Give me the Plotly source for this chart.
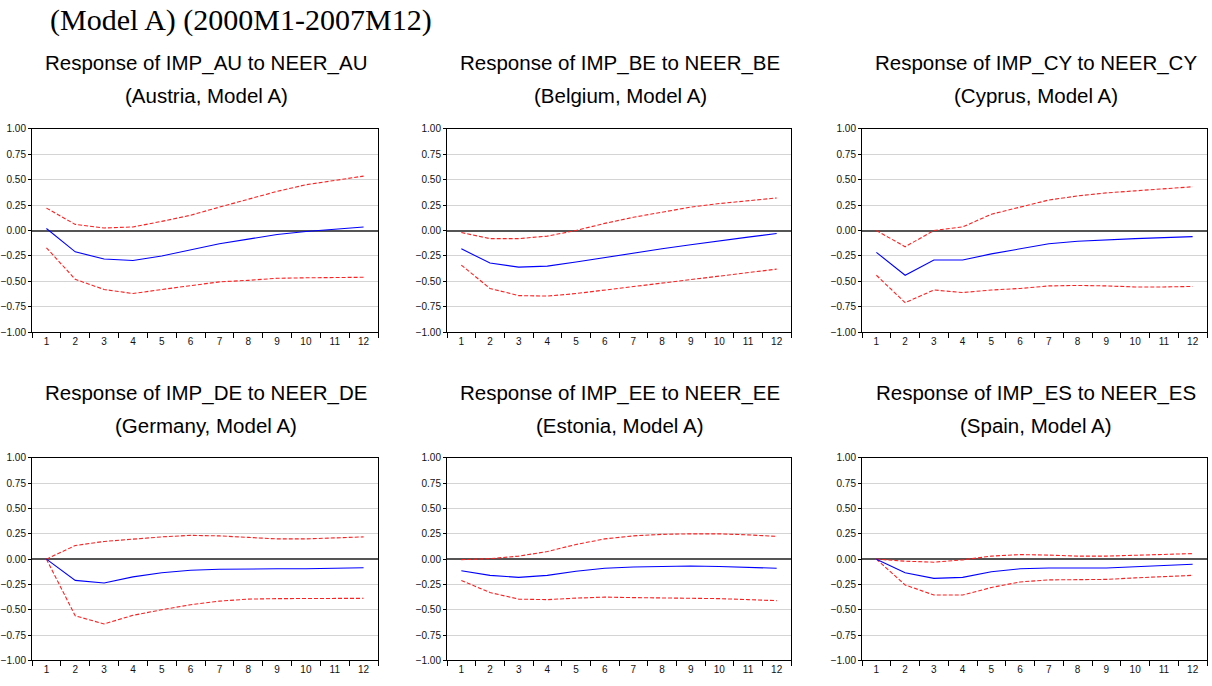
import plotly.graph_objects as go

# ---------------- data ----------------
periods = ["1", "2", "3", "4", "5", "6", "7", "8", "9", "10", "11", "12"]
y_ticks = [1.00, 0.75, 0.50, 0.25, 0.00, -0.25, -0.50, -0.75, -1.00]

main_title = "(Model A) (2000M1-2007M12)"
panel_titles = [
    "Response of IMP_AU to NEER_AU", "Response of IMP_BE to NEER_BE", "Response of IMP_CY to NEER_CY",
    "Response of IMP_DE to NEER_DE", "Response of IMP_EE to NEER_EE", "Response of IMP_ES to NEER_ES",
]
panel_subtitles = [
    "(Austria, Model A)", "(Belgium, Model A)", "(Cyprus, Model A)",
    "(Germany, Model A)", "(Estonia, Model A)", "(Spain, Model A)",
]

au_resp  = [0.02, -0.21, -0.28, -0.295, -0.25, -0.19, -0.13, -0.085, -0.04, -0.01, 0.015, 0.035]
au_upper = [0.22, 0.06, 0.025, 0.035, 0.09, 0.15, 0.23, 0.31, 0.385, 0.45, 0.495, 0.535]
au_lower = [-0.17, -0.48, -0.58, -0.62, -0.58, -0.54, -0.505, -0.49, -0.47, -0.465, -0.46, -0.46]

be_resp  = [-0.18, -0.32, -0.36, -0.35, -0.31, -0.265, -0.22, -0.18, -0.14, -0.10, -0.065, -0.03]
be_upper = [-0.02, -0.08, -0.08, -0.055, 0.0, 0.07, 0.13, 0.18, 0.23, 0.265, 0.295, 0.32]
be_lower = [-0.34, -0.57, -0.64, -0.645, -0.62, -0.585, -0.555, -0.52, -0.485, -0.45, -0.415, -0.38]

cy_resp  = [-0.215, -0.44, -0.29, -0.29, -0.23, -0.18, -0.13, -0.105, -0.09, -0.08, -0.07, -0.06]
cy_upper = [0.0, -0.16, 0.0, 0.035, 0.16, 0.23, 0.30, 0.34, 0.37, 0.39, 0.41, 0.43]
cy_lower = [-0.44, -0.71, -0.585, -0.61, -0.585, -0.57, -0.545, -0.54, -0.545, -0.555, -0.555, -0.55]

de_resp  = [0.0, -0.21, -0.235, -0.175, -0.135, -0.11, -0.10, -0.095, -0.095, -0.095, -0.093, -0.085]
de_upper = [0.0, 0.135, 0.175, 0.20, 0.22, 0.235, 0.23, 0.215, 0.20, 0.20, 0.21, 0.22]
de_lower = [0.0, -0.56, -0.64, -0.555, -0.50, -0.45, -0.415, -0.395, -0.39, -0.39, -0.39, -0.387]

ee_resp  = [-0.115, -0.16, -0.18, -0.16, -0.12, -0.09, -0.078, -0.07, -0.068, -0.072, -0.078, -0.09]
ee_upper = [-0.005, 0.005, 0.03, 0.075, 0.145, 0.20, 0.23, 0.245, 0.25, 0.25, 0.24, 0.225]
ee_lower = [-0.21, -0.33, -0.395, -0.40, -0.385, -0.375, -0.38, -0.383, -0.385, -0.39, -0.40, -0.41]

es_resp  = [0.0, -0.135, -0.19, -0.18, -0.125, -0.095, -0.088, -0.09, -0.088, -0.075, -0.06, -0.05]
es_upper = [0.0, -0.02, -0.03, -0.007, 0.03, 0.045, 0.04, 0.03, 0.03, 0.04, 0.05, 0.055]
es_lower = [0.0, -0.255, -0.355, -0.355, -0.28, -0.225, -0.205, -0.205, -0.20, -0.185, -0.17, -0.16]

panels = [
    (au_resp, au_upper, au_lower),
    (be_resp, be_upper, be_lower),
    (cy_resp, cy_upper, cy_lower),
    (de_resp, de_upper, de_lower),
    (ee_resp, ee_upper, ee_lower),
    (es_resp, es_upper, es_lower),
]

# ---------------- layout geometry (screen pixels) ----------------
W, H = 1212, 686
x_px = [(32, 378), (447, 791), (862, 1207)]
y_px = [(125, 332), (460, 666)]


def px_x(v):
    return v / W


def px_y(v):
    return 1 - v / H


fig = go.Figure()
layout = dict(
    width=W, height=H,
    margin=dict(l=0, r=0, t=0, b=0),
    paper_bgcolor="white", plot_bgcolor="white",
    showlegend=False,
)

annotations = []
for i, (resp, upper, lower) in enumerate(panels):
    r, c = divmod(i, 3)
    n = i + 1
    xa = "x" if n == 1 else f"x{n}"
    ya = "y" if n == 1 else f"y{n}"
    for vals, color, dash, width in [(upper, "#ff2020", "4px,2px", 1.1),
                                     (lower, "#ff2020", "4px,2px", 1.1),
                                     (resp, "#0000ff", "solid", 1.1)]:
        fig.add_trace(go.Scatter(x=periods, y=vals, mode="lines", xaxis=xa, yaxis=ya,
                                 line=dict(color=color, dash=dash, width=width),
                                 hoverinfo="skip"))
    x0, x1 = x_px[c]
    yt, yb = y_px[r]
    layout["xaxis" + ("" if n == 1 else str(n))] = dict(
        domain=[px_x(x0), px_x(x1)], anchor=ya, type="category",
        range=[-0.5, 11.5], tickson="boundaries", ticks="outside", ticklen=5,
        tickcolor="black", tickwidth=1, showgrid=False, zeroline=False,
        showline=True, linecolor="black", linewidth=1, mirror=True,
        tickfont=dict(family="Liberation Sans, Arial", size=10, color="#111"),
        fixedrange=True,
    )
    layout["yaxis" + ("" if n == 1 else str(n))] = dict(
        domain=[px_y(yb), px_y(yt)], anchor=xa,
        range=[-1.0, 1.0], tickvals=y_ticks, tickformat=".2f",
        ticks="outside", ticklen=3, tickcolor="black", tickwidth=1,
        showgrid=True, gridcolor="#d4d4d4", gridwidth=1,
        zeroline=True, zerolinecolor="#555555", zerolinewidth=2,
        showline=True, linecolor="black", linewidth=1, mirror=True,
        tickfont=dict(family="Liberation Sans, Arial", size=10, color="#111"),
        fixedrange=True,
    )
    cx = px_x((x0 + x1) / 2 + 1)
    title_y = [58, 394][r]
    sub_y = [91, 427][r]
    annotations.append(dict(text=panel_titles[i], x=cx, y=px_y(title_y),
                            xref="paper", yref="paper", showarrow=False,
                            xanchor="center", yanchor="middle",
                            font=dict(family="Liberation Sans, Arial", size=20.5, color="black")))
    annotations.append(dict(text=panel_subtitles[i], x=cx, y=px_y(sub_y),
                            xref="paper", yref="paper", showarrow=False,
                            xanchor="center", yanchor="middle",
                            font=dict(family="Liberation Sans, Arial", size=20.5, color="black")))

annotations.append(dict(text=main_title, x=px_x(48), y=px_y(14), xref="paper", yref="paper",
                        showarrow=False, xanchor="left", yanchor="middle",
                        font=dict(family="Liberation Serif, Times New Roman", size=30, color="black")))
layout["annotations"] = annotations
fig.update_layout(**layout)
fig.write_html("out.html", config={"displayModeBar": False},
               post_script="document.body.style.margin='0';document.body.style.padding='0';"
                           "document.body.style.overflow='hidden';")
